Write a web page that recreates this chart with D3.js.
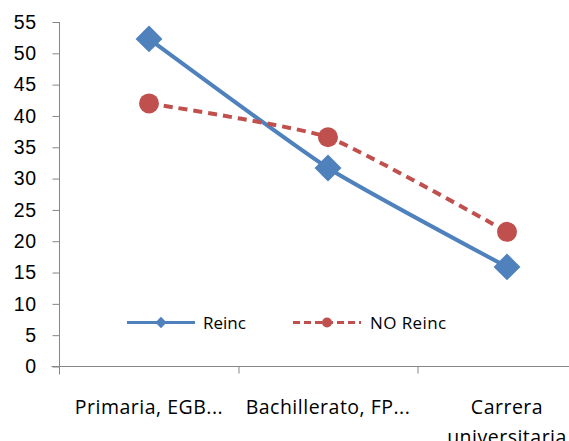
<!DOCTYPE html>
<html>
<head>
<meta charset="utf-8">
<script src="https://cdn.jsdelivr.net/npm/d3@7"></script>
<style>
  body { margin: 0; background: #fff; }
  svg { display: block; font-family: "Open Sans", Lato, sans-serif; }
</style>
</head>
<body>
<div id="chart"></div>
<script>
// categories and values
var categories = ['Primaria, EGB...', 'Bachillerato, FP...', 'Carrera universitaria'];
var reinc = [52.3, 31.7, 15.9];
var noReinc = [42.0, 36.6, 21.5];
var yTicks = [0, 5, 10, 15, 20, 25, 30, 35, 40, 45, 50, 55];

var width = 569,
    height = 441;

var plotLeft = 59.5,
    plotTop = 22,
    plotBottom = 366.5,
    bandW = 179;

var blue = '#4F81BD',
    red = '#C0504D',
    axisGray = '#868686';

var svg = d3.select('#chart').append('svg')
    .attr('width', width)
    .attr('height', height);

var x = d3.scaleBand()
    .domain(categories)
    .range([plotLeft, plotLeft + bandW * categories.length]);

var y = d3.scaleLinear()
    .domain([0, 55])
    .range([plotBottom, plotTop]);

//y axis
var yAxis = svg.append('g')
    .attr('transform', 'translate(' + plotLeft + ',0)')
    .call(d3.axisLeft(y).tickValues(yTicks).tickSize(7).tickPadding(16));

yAxis.select('.domain').attr('stroke', axisGray).attr('d', 'M0,' + plotTop + 'V' + (plotBottom + 8));
yAxis.selectAll('.tick line').attr('stroke', axisGray);
yAxis.selectAll('.tick text')
    .attr('fill', '#000')
    .attr('font-family', null)
    .attr('font-size', null)
    .style('font-size', '19.5px')
    .style('letter-spacing', '0.5px');

//x axis
var xAxis = svg.append('g')
    .attr('transform', 'translate(0,' + plotBottom + ')')
    .call(d3.axisBottom(x).tickSize(0).tickFormat(''));

xAxis.select('.domain').attr('stroke', axisGray).attr('d', 'M' + (plotLeft - 8) + ',0H' + (plotLeft + bandW * 3));

// tick marks between categories
svg.append('g').selectAll('line')
    .data(categories.slice(1))
    .enter()
    .append('line')
    .attr('x1', function(d) { return x(d) + 0.5; })
    .attr('x2', function(d) { return x(d) + 0.5; })
    .attr('y1', plotBottom)
    .attr('y2', plotBottom + 7)
    .attr('stroke', axisGray);

// category labels (last one wraps to two lines)
var labels = svg.append('g').selectAll('text')
    .data(categories)
    .enter()
    .append('text')
    .attr('x', function(d) { return x(d) + x.bandwidth() / 2; })
    .attr('y', 414)
    .attr('text-anchor', 'middle')
    .style('font-size', '19.5px')
    .style('letter-spacing', '0.5px')
    .attr('fill', '#000');

labels.each(function(d) {
  var el = d3.select(this);
  if (d === 'Carrera universitaria') {
    el.append('tspan').attr('x', el.attr('x')).text('Carrera');
    el.append('tspan').attr('x', el.attr('x')).attr('dy', 30).text('universitaria');
  } else {
    el.text(d);
  }
});

var line = d3.line()
    .x(function(d, i) { return x(categories[i]) + x.bandwidth() / 2; })
    .y(function(d) { return y(d); })
    .curve(d3.curveCardinal.tension(0.5));

//Reinc series
svg.append('path')
    .datum(reinc)
    .attr('d', line)
    .attr('fill', 'none')
    .attr('stroke', blue)
    .attr('stroke-width', 4);

svg.append('g').selectAll('rect')
    .data(reinc)
    .enter()
    .append('rect')
    .attr('x', -9.5)
    .attr('y', -9.5)
    .attr('width', 19)
    .attr('height', 19)
    .attr('fill', blue)
    .attr('transform', function(d, i) {
      return 'translate(' + (x(categories[i]) + x.bandwidth() / 2) + ',' + y(d) + ') rotate(45)';
    });

//NO Reinc series
svg.append('path')
    .datum(noReinc)
    .attr('d', line)
    .attr('fill', 'none')
    .attr('stroke', red)
    .attr('stroke-width', 4)
    .attr('stroke-dasharray', '9,6');

svg.append('g').selectAll('circle')
    .data(noReinc)
    .enter()
    .append('circle')
    .attr('cx', function(d, i) { return x(categories[i]) + x.bandwidth() / 2; })
    .attr('cy', function(d) { return y(d); })
    .attr('r', 10)
    .attr('fill', red);

//legend
var legend = svg.append('g').attr('transform', 'translate(0,322.5)');

legend.append('line')
    .attr('x1', 127).attr('x2', 195)
    .attr('stroke', blue).attr('stroke-width', 3);
legend.append('rect')
    .attr('x', -4).attr('y', -4).attr('width', 8).attr('height', 8)
    .attr('fill', blue)
    .attr('transform', 'translate(161,0) rotate(45)');
legend.append('text')
    .attr('x', 203).attr('y', 6)
    .style('font-size', '17px')
    .text('Reinc');

legend.append('line')
    .attr('x1', 293).attr('x2', 361)
    .attr('stroke', red).attr('stroke-width', 3)
    .attr('stroke-dasharray', '7,4');
legend.append('circle')
    .attr('cx', 327).attr('r', 5)
    .attr('fill', red);
legend.append('text')
    .attr('x', 370).attr('y', 6)
    .style('font-size', '17px')
    .style('letter-spacing', '0.4px')
    .text('NO Reinc');
</script>
</body>
</html>
